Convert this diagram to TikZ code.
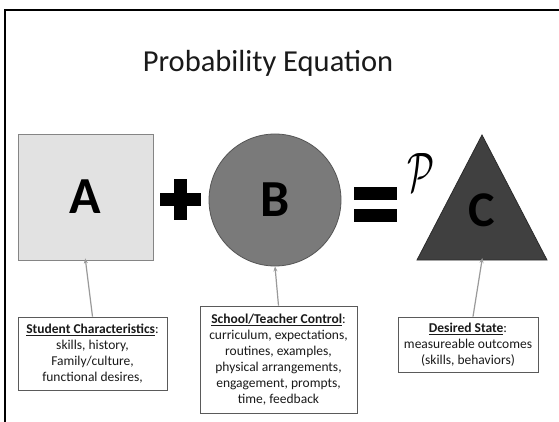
\documentclass[tikz,border=0pt]{standalone}
\usepackage{fontspec}
\setmainfont{Carlito}
\usetikzlibrary{arrows.meta}
\definecolor{sqfill}{HTML}{E2E2E2}
\definecolor{sqline}{HTML}{858585}
\definecolor{cifill}{HTML}{7A7A7A}
\definecolor{ciline}{HTML}{555555}
\definecolor{trfill}{HTML}{404040}
\definecolor{trline}{HTML}{2A2A2A}
\definecolor{arrgray}{HTML}{9A9A9A}
\definecolor{boxline}{HTML}{5A5A5A}
\definecolor{txt}{HTML}{1A1A1A}
\tikzset{
  bigletter/.style={font=\fontsize{52}{52}\selectfont\bfseries, text=black},
  infobox/.style={draw=boxline, line width=0.8pt, align=center, inner sep=2pt,
    font=\fontsize{13.5}{16}\selectfont, text=txt},
  pointer/.style={draw=arrgray, line width=1.2pt, -{Stealth[length=5pt,width=4pt]}},
}
\begin{document}
\begin{tikzpicture}[x=1pt,y=-1pt]
\useasboundingbox (0,0) rectangle (559,422);
\fill[white] (0,0) rectangle (559,422);
% frame
\draw[line width=2pt] (5,422) -- (5,10) -- (559,10);
% title
\node[anchor=base, font=\fontsize{30.5}{36}\selectfont, text=txt] (title) at (268,72) {Probability Equation};
% square A
\node[draw=sqline, fill=sqfill, line width=0.8pt, minimum width=135pt, minimum height=126pt, inner sep=0pt,
  bigletter] (A) at (85.5,197) {\raisebox{-4pt}{A}};
% plus
\fill[black] (174,179) rectangle (187,220);
\fill[black] (160,193) rectangle (201,206);
% circle B
\node[circle, draw=ciline, fill=cifill, line width=0.8pt, minimum size=132pt, inner sep=0pt,
  bigletter] (B) at (275,200) {B};
% equals
\fill[black] (354,187) rectangle (397,200);
\fill[black] (354,209) rectangle (397,222);
% script P
\node[inner sep=0pt] (P) at (421,172) {\resizebox{27pt}{38pt}{$\mathcal{P}$}};
% triangle C
\coordinate (Ctop) at (482,135);
\coordinate (Cleft) at (417,260);
\coordinate (Cright) at (547,260);
\coordinate (Cbase) at (482,260);
\draw[draw=trline, fill=trfill, line width=0.8pt] (Ctop) -- (Cright) -- (Cleft) -- cycle;
\node[bigletter, font=\fontsize{50}{50}\selectfont\bfseries] (C) at (482,210) {C};
% info boxes
\node[infobox, minimum width=149pt, minimum height=73pt] (boxA) at (92.5,353.5)
  {\underline{\textbf{Student Characteristics}}:\\ skills, history,\\ Family/culture,\\ functional desires,};
\node[infobox, minimum width=157pt, minimum height=107pt] (boxB) at (278.5,359.5)
  {\underline{\textbf{School/Teacher Control}}:\\ curriculum, expectations,\\ routines, examples,\\ physical arrangements,\\ engagement, prompts,\\ time, feedback};
\node[infobox, minimum width=140pt, minimum height=55pt] (boxC) at (468,344.5)
  {\underline{\textbf{Desired State}}:\\ measureable outcomes\\ (skills, behaviors)};
% pointers
\draw[pointer, shorten >=-2pt] (boxA.north) -- (A.south);
\draw[pointer] (boxB.north) -- (B.south);
\draw[pointer, shorten >=-2pt] ([xshift=5pt]boxC.north) -- (Cbase);
\end{tikzpicture}
\end{document}
